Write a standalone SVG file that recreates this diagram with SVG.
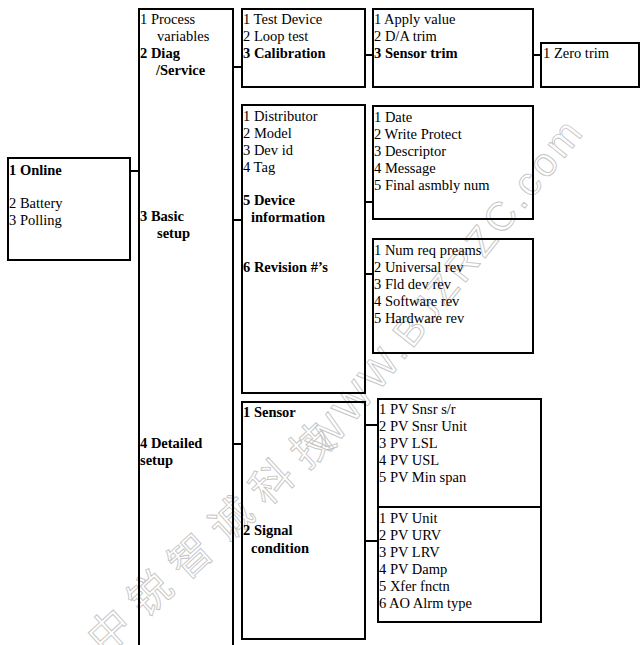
<svg xmlns="http://www.w3.org/2000/svg" width="642" height="645" viewBox="0 0 642 645">
<style>
.b{fill:none;stroke:#000;stroke-width:2}
.c{stroke:#000;stroke-width:2;fill:none}
text{font-family:"Liberation Serif","Times New Roman",serif;font-size:14.5px;fill:#000}
.bd{font-weight:bold}
.wm{fill:none;stroke:#c4c4c4;stroke-width:0.9}
.wmc{font-family:"Noto Sans CJK SC","Noto Sans CJK JP",sans-serif;font-size:42px}
.wml{font-family:"Liberation Sans",sans-serif;font-size:40px}
</style>
<rect width="642" height="645" fill="#fff"/>
<g id="watermark">
<text class="wm wmc" x="0" y="0" transform="translate(104,656) rotate(-42.5)" letter-spacing="13">中锐智诚科技</text>
<text class="wm wml" x="0" y="0" transform="translate(326,458) rotate(-51.5)" letter-spacing="4">WWW.BJZRZC.com</text>
</g>
<g id="connectors">
<path class="c" d="M130 171H139"/>
<path class="c" d="M233 67H242"/>
<path class="c" d="M233 220H242"/>
<path class="c" d="M233 444H242"/>
<path class="c" d="M365 55H373"/>
<path class="c" d="M533 55H541"/>
<path class="c" d="M365 202H373"/>
<path class="c" d="M365 274H373"/>
<path class="c" d="M365 425H378"/>
<path class="c" d="M365 541H378"/>
</g>
<g id="online">
<rect class="b" x="8" y="158" width="122" height="102"/>
<text x="9" y="175" class="bd">1 Online</text>
<text x="9" y="208">2 Battery</text>
<text x="9" y="225">3 Polling</text>
</g>
<g id="main-menu">
<rect class="b" x="139" y="9" width="94" height="660"/>
<text x="140" y="24">1 Process</text>
<text x="157" y="41">variables</text>
<text x="140" y="58" class="bd">2 Diag</text>
<text x="156" y="75" class="bd">/Service</text>
<text x="140" y="221" class="bd">3 Basic</text>
<text x="157" y="238" class="bd">setup</text>
<text x="140" y="448" class="bd">4 Detailed</text>
<text x="140" y="465" class="bd">setup</text>
</g>
<g id="diag-service">
<rect class="b" x="242" y="9" width="123" height="78"/>
<text x="243" y="24">1 Test Device</text>
<text x="243" y="41">2 Loop test</text>
<text x="243" y="58" class="bd">3 Calibration</text>
</g>
<g id="basic-setup">
<rect class="b" x="242" y="105" width="123" height="288"/>
<text x="243" y="121">1 Distributor</text>
<text x="243" y="138">2 Model</text>
<text x="243" y="155">3 Dev id</text>
<text x="243" y="172">4 Tag</text>
<text x="243" y="205" class="bd">5 Device</text>
<text x="251" y="222" class="bd">information</text>
<text x="243" y="272" class="bd">6 Revision #’s</text>
</g>
<g id="detailed-setup">
<rect class="b" x="242" y="402" width="123" height="237"/>
<text x="243" y="417" class="bd">1 Sensor</text>
<text x="243" y="535" class="bd">2 Signal</text>
<text x="251" y="553" class="bd">condition</text>
</g>
<g id="calibration">
<rect class="b" x="373" y="9" width="160" height="78"/>
<text x="374" y="24">1 Apply value</text>
<text x="374" y="41">2 D/A trim</text>
<text x="374" y="58" class="bd">3 Sensor trim</text>
</g>
<g id="sensor-trim">
<rect class="b" x="541" y="43" width="98" height="44"/>
<text x="543" y="58">1 Zero trim</text>
</g>
<g id="device-information">
<rect class="b" x="373" y="106" width="160" height="113"/>
<text x="374" y="122">1 Date</text>
<text x="374" y="139">2 Write Protect</text>
<text x="374" y="156">3 Descriptor</text>
<text x="374" y="173">4 Message</text>
<text x="374" y="190">5 Final asmbly num</text>
</g>
<g id="revision">
<rect class="b" x="373" y="239" width="160" height="114"/>
<text x="374" y="255">1 Num req preams</text>
<text x="374" y="272">2 Universal rev</text>
<text x="374" y="289">3 Fld dev rev</text>
<text x="374" y="306">4 Software rev</text>
<text x="374" y="323">5 Hardware rev</text>
</g>
<g id="sensor">
<rect class="b" x="378" y="399" width="163" height="108"/>
<text x="379" y="414">1 PV Snsr s/r</text>
<text x="379" y="431">2 PV Snsr Unit</text>
<text x="379" y="448">3 PV LSL</text>
<text x="379" y="465">4 PV USL</text>
<text x="379" y="482">5 PV Min span</text>
</g>
<g id="signal-condition">
<rect class="b" x="378" y="507" width="163" height="115"/>
<text x="379" y="523">1 PV Unit</text>
<text x="379" y="540">2 PV URV</text>
<text x="379" y="557">3 PV LRV</text>
<text x="379" y="574">4 PV Damp</text>
<text x="379" y="591">5 Xfer fnctn</text>
<text x="379" y="608">6 AO Alrm type</text>
</g>
</svg>
